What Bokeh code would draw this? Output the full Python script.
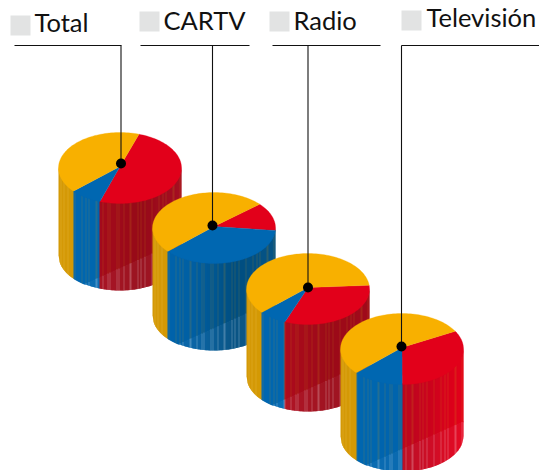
import math
from bokeh.plotting import figure
from bokeh.models import Range1d
from bokeh.core.properties import value
from bokeh.embed import file_html
from bokeh.resources import INLINE

labels = ["Total", "CARTV", "Radio", "Televisión"]
red_share = [50.3, 12.8, 32.8, 33.3]
blue_share = [8.4, 37.4, 7.4, 13.3]
yellow_share = [41.3, 49.8, 59.8, 53.4]

TOP = {"red": "#e2001a", "blue": "#0067b1", "yellow": "#f8b000"}
START = [18, 48, 84, 60]
# side gradient stops per cylinder (left -> right across the visible side)
RED_SIDE = [[(212, 4, 28), (165, 10, 28), (150, 10, 24), (165, 14, 34)],
            [(160, 10, 30), (160, 10, 30)],
            [(215, 4, 30), (172, 10, 28), (155, 10, 25), (160, 10, 26)],
            [(178, 10, 30), (172, 10, 30), (198, 4, 30), (228, 0, 26)]]
BLUE_SIDE = [(0, 103, 177), (0, 98, 168)]
BLUE_SIDE2 = [(0, 103, 177), (0, 95, 162), (0, 78, 128), (6, 84, 134)]
YEL_SIDE = [(212, 153, 6), (214, 153, 0)]

CX = [119.5, 213.5, 307.5, 401.5]
CY = [167.5, 227.5, 288.5, 348.5]
DOT_Y = [163, 225, 287, 346]
RX, RY, DEPTH = 61.5, 35.5, 87
PIN_X = [120.5, 212, 307.5, 401]
RULE = [(14, 121), (140, 249), (272, 380), (401, 539)]
SQ = [(10, 15), (139, 11), (269, 11), (401, 10)]
TXT = [(34, 33), (163, 31), (293, 31), (426, 28)]
TXT_SHIFT = -11.5
RULE_Y = 45

p = figure(width=539, height=470, x_range=Range1d(0, 539), y_range=Range1d(470, 0),
           output_backend="svg", toolbar_location=None, min_border=0,
           outline_line_color=None, background_fill_color="white", border_fill_color="white")
p.xaxis.visible = False
p.yaxis.visible = False
p.grid.visible = False


def mix(a, b, t):
    return tuple(a[k] + (b[k] - a[k]) * t for k in range(3))


def stops(lst, u):
    s = max(0, min(0.9999, u)) * (len(lst) - 1)
    i = int(s)
    return mix(lst[i], lst[i + 1], s - i)


def hexc(c):
    return "#%02x%02x%02x" % tuple(int(round(max(0, min(255, v)))) for v in c)


def ell(cx, cy, deg):
    t = math.radians(deg)
    return cx + RX * math.sin(t), cy - RY * math.cos(t)


def front(cx, cy, x):
    return cy + RY * math.sqrt(max(0, 1 - ((x - cx) / RX) ** 2))


for n in range(4):
    cx, cy = CX[n], CY[n]
    shares = [("red", red_share[n]), ("blue", blue_share[n]), ("yellow", yellow_share[n])]
    total = sum(s for _, s in shares)
    edges = []
    a = float(START[n])
    for name, s in shares:
        edges.append((name, a, a + s / total * 360))
        a += s / total * 360

    xs, ys, cols = [], [], []
    x0 = int(math.floor(cx - RX))
    x1 = int(math.ceil(cx + RX))
    for x in range(x0, x1):
        xa = max(x, cx - RX)
        xc = min(x + 1, cx + RX)
        # each column runs under the next one, so no seam of white shows between them
        xb = min(x + 1.8, cx + RX)
        mid = (xa + xc) / 2
        dx = (mid - cx) / RX
        theta = 180 - math.degrees(math.asin(max(-1, min(1, dx))))
        name = "yellow"
        for e in edges:
            if e[1] <= theta < e[2] or e[1] <= theta + 360 < e[2]:
                name = e[0]
        u = (mid - (cx - RX)) / (2 * RX)
        if name == "red":
            base = stops(RED_SIDE[n], u)
        elif name == "blue":
            base = stops(BLUE_SIDE2 if n == 1 else BLUE_SIDE, u)
        else:
            base = stops(YEL_SIDE, u)
        # fine print-like vertical ruling, a fixed repeating pattern
        k = x - x0
        stripe = k % 7 == 2 or k % 11 == 5
        ya = front(cx, cy, xa) - 1
        yb = front(cx, cy, xb) - 1
        bot_a = ya + 1 + DEPTH
        bot_b = yb + 1 + DEPTH
        split = cy + 100 - 0.45 * (mid - cx)
        upper = mix(base, (205, 150, 20), 0.18) if stripe else base
        if name == "yellow":
            upper = mix(base, (240, 195, 90), 0.25) if stripe else base
        lower = mix(base, (255, 255, 255), 0.26) if stripe else mix(base, (255, 255, 255), 0.04)
        sa = min(split, bot_a)
        sb = min(split, bot_b)
        xs.append([xa, xb, xb, xa])
        ys.append([ya, yb, sb + 0.5, sa + 0.5])
        cols.append(hexc(upper))
        if sa < bot_a or sb < bot_b:
            xs.append([xa, xb, xb, xa])
            ys.append([sa, sb, bot_b, bot_a])
            cols.append(hexc(lower))
    p.patches(xs, ys, fill_color=cols, line_color=None)

    for name, a0, a1 in edges:
        m = max(2, int((a1 - a0) / 2))
        pts = [ell(cx, cy, a0 + (a1 - a0) * i / m) for i in range(m + 1)]
        px = [cx] + [q[0] for q in pts]
        py = [cy - 1.5] + [q[1] for q in pts]
        p.patch(px, py, fill_color=TOP[name], line_color=TOP[name], line_width=0.3)

p.quad(left=[s[0] for s in SQ], right=[s[0] + 20 for s in SQ],
       top=[s[1] for s in SQ], bottom=[s[1] + 20 for s in SQ],
       fill_color="#e2e3e3", line_color=None)
p.segment(x0=[r[0] for r in RULE], x1=[r[1] for r in RULE], y0=[RULE_Y] * 4, y1=[RULE_Y] * 4,
          line_color="#111111", line_width=1.1)
p.segment(x0=PIN_X, x1=PIN_X, y0=[RULE_Y] * 4, y1=DOT_Y, line_color="#111111", line_width=1.1)
p.scatter(x=PIN_X, y=DOT_Y, size=10, marker="circle", fill_color="black", line_color=None)
p.text(x=[t[0] for t in TXT], y=[t[1] for t in TXT], text=labels, y_offset=TXT_SHIFT,
       text_font=value("Lato"), text_font_size="25.5px", text_color="#111111",
       text_baseline="alphabetic", text_align="left")

open("out.html", "w").write(file_html(p, INLINE))
